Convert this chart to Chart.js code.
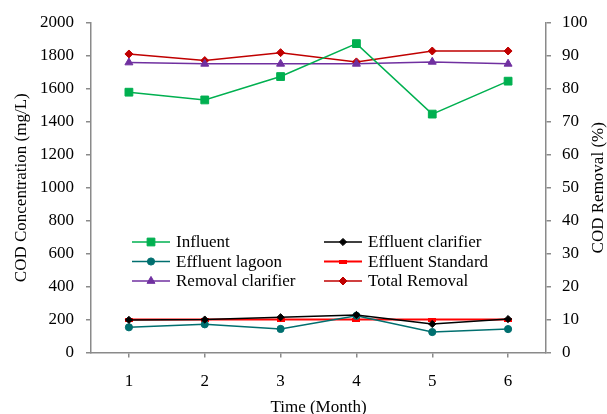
<!DOCTYPE html>
<html><head><meta charset="utf-8">
<script src="https://cdn.jsdelivr.net/npm/chart.js@4"></script>
<style>html,body{margin:0;padding:0;background:#fff}#wrap{width:607px;height:414px}</style>
</head><body><div id="wrap"><canvas id="c" width="607" height="414"></canvas></div>
<script>
const months = ['1', '2', '3', '4', '5', '6'];
const influent = [1580, 1533, 1675, 1875, 1447, 1647];
const effluentClarifier = [198, 200, 214, 228, 173, 203];
const effluentLagoon = [153, 171, 143, 223, 124, 142];
const effluentStandard = [200, 200, 200, 200, 200, 200];
const removalClarifier = [88.0, 87.6, 87.6, 87.6, 88.2, 87.6];
const totalRemoval = [90.6, 88.6, 91.0, 88.2, 91.5, 91.5];
const xTitle = 'Time (Month)';
const yTitle = 'COD Concentration (mg/L)';
const y1Title = 'COD Removal (%)';

const FONT = "'Liberation Serif', 'Times New Roman', serif";
const AXIS = '#8a8a8a';

// small red bar marker for the standard
const stdMark = document.createElement('canvas');
stdMark.width = 8; stdMark.height = 4;
(function(){ const g = stdMark.getContext('2d'); g.fillStyle = '#ff0000'; g.fillRect(0,0,8,4); })();

const datasets = [
  {label:'Influent', data:influent, yAxisID:'y', borderColor:'#00b050', backgroundColor:'#00b050', pointStyle:'rect', pointRadius:5.5, borderWidth:1.5},
  {label:'Effluent clarifier', data:effluentClarifier, yAxisID:'y', borderColor:'#000000', backgroundColor:'#000000', pointStyle:'rectRot', pointRadius:3.6, borderWidth:1.5},
  {label:'Effluent lagoon', data:effluentLagoon, yAxisID:'y', borderColor:'#006f6f', backgroundColor:'#006f6f', pointStyle:'circle', pointRadius:3.6, borderWidth:1.5},
  {label:'Effluent Standard', data:effluentStandard, yAxisID:'y', borderColor:'#ff0000', backgroundColor:'#ff0000', pointStyle:stdMark, pointRadius:4, borderWidth:2},
  {label:'Removal clarifier', data:removalClarifier, yAxisID:'y1', borderColor:'#7030a0', backgroundColor:'#7030a0', pointStyle:'triangle', pointRadius:4.6, borderWidth:1.5},
  {label:'Total Removal', data:totalRemoval, yAxisID:'y1', borderColor:'#c00000', backgroundColor:'#c00000', pointStyle:'rectRot', pointRadius:4, borderWidth:1.5}
];
datasets.forEach(d => { d.pointBorderWidth = 1; d.fill = false; d.tension = 0; d.pointHoverRadius = d.pointRadius; });

const legendPlugin = {
  id: 'customLegend',
  afterDraw(chart) {
    const ctx = chart.ctx;
    const colLine = [132, 324], colText = [176, 368];
    chart.data.datasets.forEach((ds, i) => {
      const col = i % 2, row = Math.floor(i / 2);
      const y = 242 + row * 19.5;
      const x0 = colLine[col], x1 = x0 + 38;
      ctx.save();
      ctx.strokeStyle = ds.borderColor; ctx.lineWidth = ds.borderWidth;
      ctx.beginPath(); ctx.moveTo(x0, y); ctx.lineTo(x1, y); ctx.stroke();
      ctx.fillStyle = ds.backgroundColor; ctx.strokeStyle = ds.borderColor; ctx.lineWidth = 1;
      Chart.helpers.drawPoint(ctx, {pointStyle: ds.pointStyle, radius: ds.pointRadius, rotation: 0, borderWidth: 1}, (x0 + x1) / 2, y);
      ctx.fillStyle = '#000'; ctx.font = '17px ' + FONT;
      ctx.textAlign = 'left'; ctx.textBaseline = 'middle';
      ctx.fillText(ds.label, colText[col], y + 1);
      ctx.restore();
    });
    // right axis title, reading bottom-to-top
    const a = chart.chartArea;
    ctx.save();
    ctx.translate(599, (a.top + a.bottom) / 2);
    ctx.rotate(-Math.PI / 2);
    ctx.fillStyle = '#000'; ctx.font = '17px ' + FONT;
    ctx.textAlign = 'center'; ctx.textBaseline = 'middle';
    ctx.fillText(y1Title, 0, 0);
    ctx.restore();
  }
};

const tickFont = {family: FONT, size: 17};
const gridOpts = {display:true, drawOnChartArea:false, drawTicks:true, tickLength:5, color:AXIS, lineWidth:1.5};
const borderOpts = {display:true, color:AXIS, width:1.5};
const plain = v => String(v);

new Chart(document.getElementById('c'), {
  type: 'line',
  data: {labels: months, datasets},
  options: {
    responsive: false, animation: false, devicePixelRatio: 1,
    layout: {padding: {top: 23, left: 0, right: 0, bottom: 0}},
    plugins: {legend: {display: false}, tooltip: {enabled: false}},
    scales: {
      x: {
        type: 'category', offset: true,
        grid: gridOpts, border: borderOpts,
        ticks: {font: tickFont, color: '#000', padding: 14, maxRotation: 0},
        title: {display: true, text: xTitle, color: '#000', font: {family: FONT, size: 17, lineHeight: 0.8}, padding: {top: 0, bottom: 0}},
        afterFit(s) { s.height = 61.5; }
      },
      y: {
        position: 'left', min: 0, max: 2000,
        grid: gridOpts, border: borderOpts,
        ticks: {stepSize: 200, font: tickFont, color: '#000', padding: 12, callback: plain},
        title: {display: true, text: yTitle, color: '#000', font: {family: FONT, size: 17, lineHeight: 1}, padding: {top: 13.5, bottom: 0}},
        afterFit(s) { s.width = 91; }
      },
      y1: {
        position: 'right', min: 0, max: 100,
        grid: gridOpts, border: borderOpts,
        ticks: {stepSize: 10, font: tickFont, color: '#000', padding: 11, callback: plain},
        afterFit(s) { s.width = 61; }
      }
    }
  },
  plugins: [legendPlugin]
});
</script>
</body></html>
